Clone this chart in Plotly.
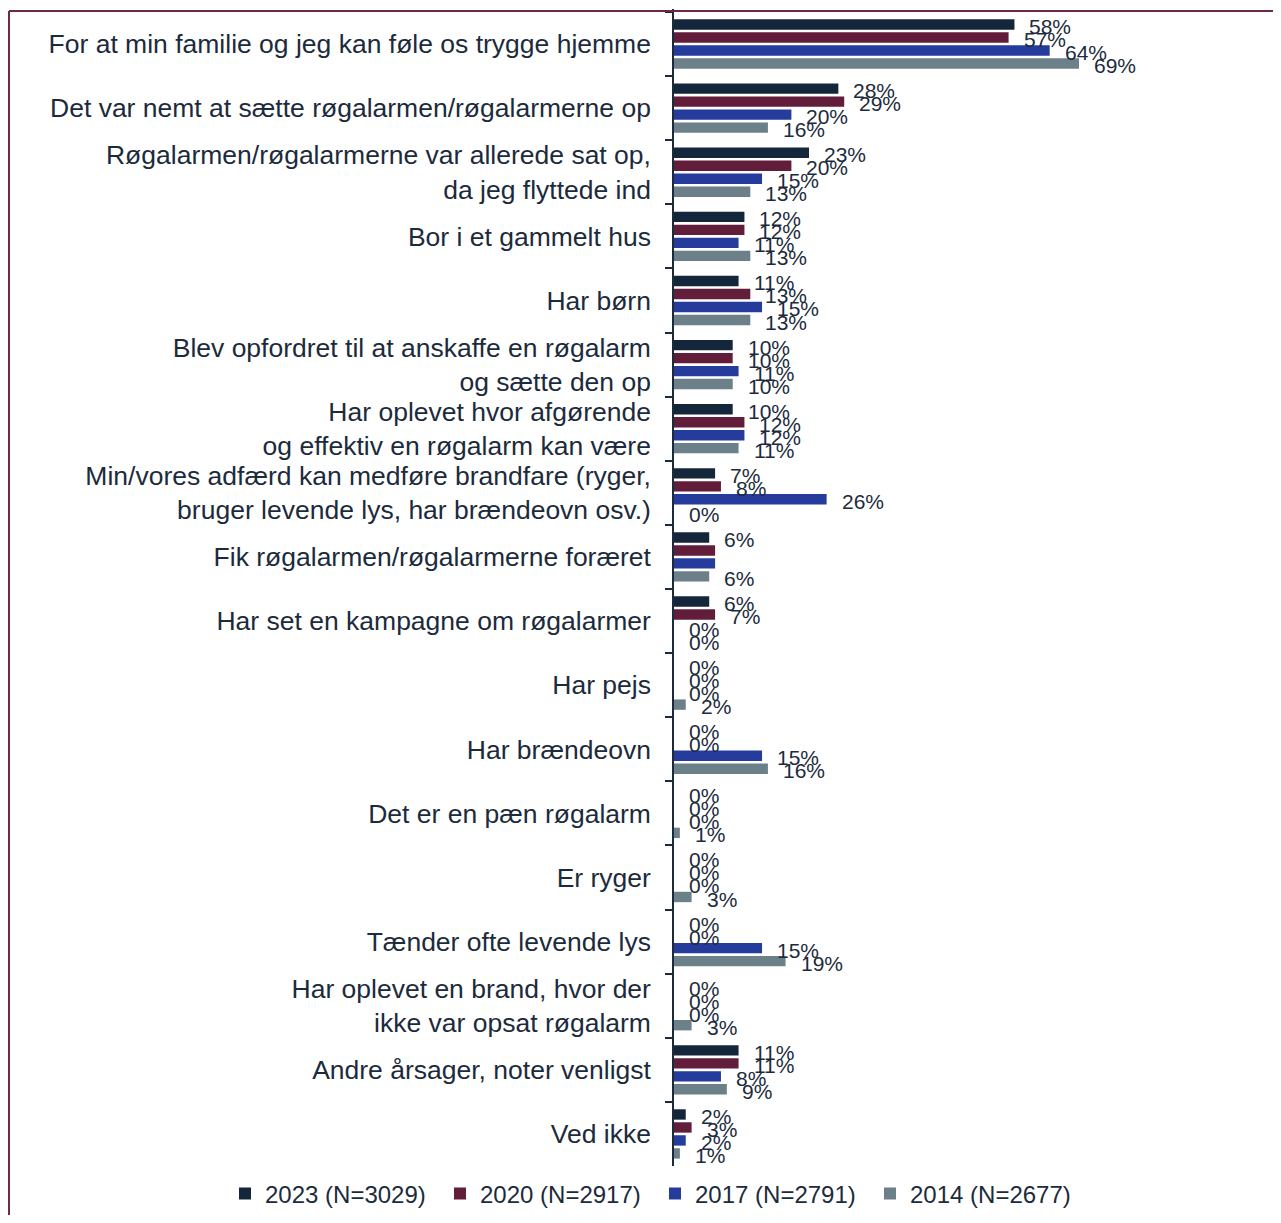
import plotly.graph_objects as go

categories = [
    "For at min familie og jeg kan føle os trygge hjemme",
    "Det var nemt at sætte røgalarmen/røgalarmerne op",
    "Røgalarmen/røgalarmerne var allerede sat op,<br>da jeg flyttede ind",
    "Bor i et gammelt hus",
    "Har børn",
    "Blev opfordret til at anskaffe en røgalarm<br>og sætte den op",
    "Har oplevet hvor afgørende<br>og effektiv en røgalarm kan være",
    "Min/vores adfærd kan medføre brandfare (ryger,<br>bruger levende lys, har brændeovn osv.)",
    "Fik røgalarmen/røgalarmerne foræret",
    "Har set en kampagne om røgalarmer",
    "Har pejs",
    "Har brændeovn",
    "Det er en pæn røgalarm",
    "Er ryger",
    "Tænder ofte levende lys",
    "Har oplevet en brand, hvor der<br>ikke var opsat røgalarm",
    "Andre årsager, noter venligst",
    "Ved ikke",
]

series_names = ["2023 (N=3029)", "2020 (N=2917)", "2017 (N=2791)", "2014 (N=2677)"]

values_2023 = [58, 28, 23, 12, 11, 10, 10, 7, 6, 6, 0, 0, 0, 0, 0, 0, 11, 2]
values_2020 = [57, 29, 20, 12, 13, 10, 12, 8, 7, 7, 0, 0, 0, 0, 0, 0, 11, 3]
values_2017 = [64, 20, 15, 11, 15, 11, 12, 26, 7, 0, 0, 15, 0, 0, 15, 0, 8, 2]
values_2014 = [69, 16, 13, 13, 13, 10, 11, 0, 6, 0, 2, 16, 1, 3, 19, 3, 9, 1]

# value labels not printed in the original chart: (category index, series index)
hidden_labels = [(8, 1), (8, 2)]

series_values = [values_2023, values_2020, values_2017, values_2014]
colors = ["#14263a", "#621d3a", "#263c9c", "#6b8089"]

TEXT = "#1c2b3c"
FONT = "Liberation Sans, Arial, sans-serif"

W, H = 1265, 1207
L, R, T, B = 666, 12, 1, 49
PW = W - L - R
PH = H - T - B
BARGAP = 0.19

fig = go.Figure()
for name, vals, col in zip(series_names, series_values, colors):
    fig.add_trace(go.Bar(
        name=name, y=categories, x=vals, orientation="h",
        marker=dict(color=col, line=dict(width=0)),
    ))

annotations = []
slot = PH / len(categories) * (1 - BARGAP) / 4
for si, vals in enumerate(series_values):
    for ci, v in enumerate(vals):
        if (ci, si) in hidden_labels:
            continue
        annotations.append(dict(
            x=v, y=categories[ci], xref="x", yref="y",
            text=f"{v}%", showarrow=False, xanchor="left", yanchor="middle",
            xshift=13, yshift=-((si - 1.5) * slot + 2),
            font=dict(size=21, color=TEXT, family=FONT),
        ))

border = "#6b2a45"
x_left = -(L - 1) / PW
top_y = 1 - 2 / PH
fig.add_shape(type="line", xref="paper", yref="paper",
              x0=x_left, x1=1 + R / PW, y0=top_y, y1=top_y,
              line=dict(color=border, width=2))
fig.add_shape(type="line", xref="paper", yref="paper",
              x0=x_left, x1=x_left, y0=top_y, y1=-(B + 10) / PH,
              line=dict(color=border, width=2))

fig.update_layout(
    width=W, height=H,
    margin=dict(l=L, r=R, t=T, b=B, pad=0, autoexpand=False),
    paper_bgcolor="white", plot_bgcolor="white",
    barmode="group", bargap=BARGAP, bargroupgap=0.2,
    font=dict(family=FONT, color=TEXT),
    annotations=annotations,
    showlegend=True,
    legend=dict(
        orientation="h", xanchor="left", x=(217 - L) / PW,
        yanchor="middle", y=-(1186 - (T + PH)) / PH,
        font=dict(size=24, color=TEXT, family=FONT), entrywidth=170,
        bgcolor="rgba(0,0,0,0)",
    ),
    xaxis=dict(range=[0, 100], visible=False, showgrid=False, zeroline=False),
    yaxis=dict(
        autorange="reversed", categoryorder="array", categoryarray=categories,
        showline=True, linecolor="#1c2b3c", linewidth=1.5,
        ticks="outside", tickson="boundaries", ticklen=7, tickcolor="#1c2b3c", tickwidth=1.5,
        ticklabelstandoff=16, showgrid=False, zeroline=False,
        tickfont=dict(size=26.5, color=TEXT, family=FONT),
    ),
)

fig.write_html("out.html")
